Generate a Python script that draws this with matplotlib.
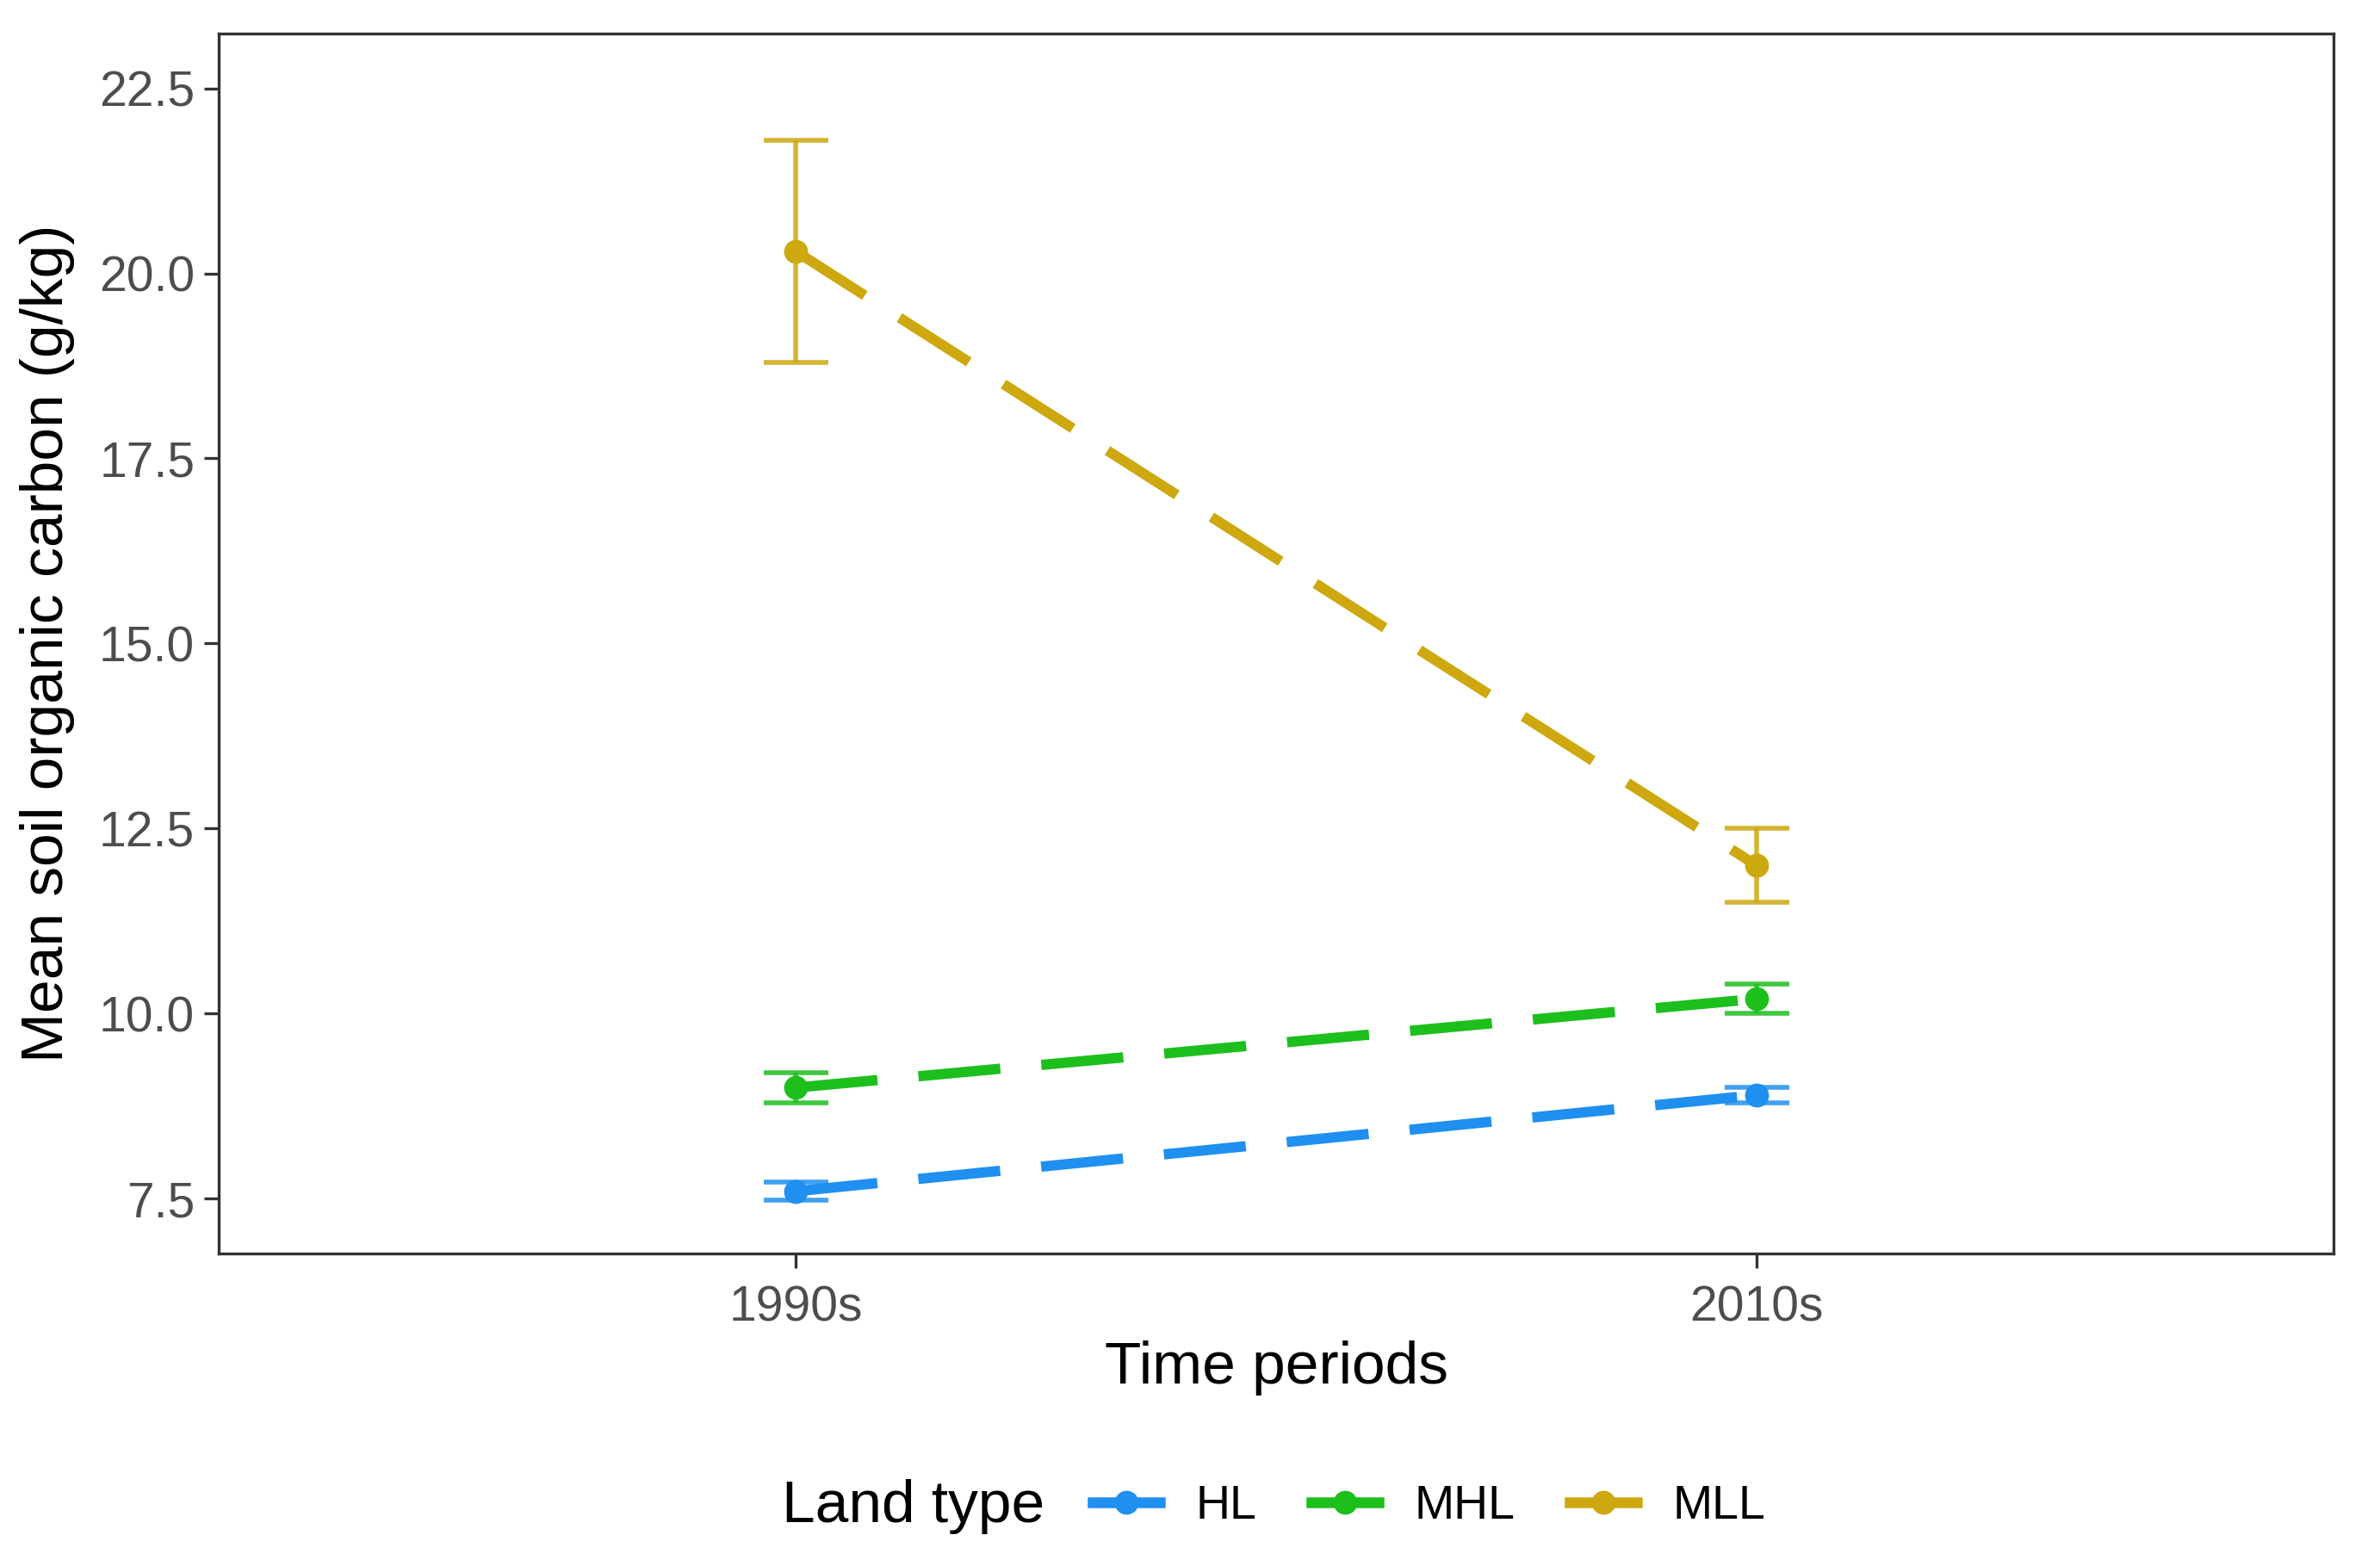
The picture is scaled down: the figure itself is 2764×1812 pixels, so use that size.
import matplotlib
matplotlib.use("Agg")
import matplotlib.pyplot as plt
from matplotlib.lines import Line2D

plt.rcParams['font.family'] = ['Liberation Sans', 'DejaVu Sans']

# data
periods = ["1990s", "2010s"]
land_types = ["HL", "MHL", "MLL"]
hl_mean = [7.6, 8.9]
hl_se = [0.12, 0.1]
mhl_mean = [9.0, 10.2]
mhl_se = [0.2, 0.2]
mll_mean = [20.3, 12.0]
mll_se = [1.5, 0.5]
colors = ["#1F8FF0", "#1DBF1D", "#CDA80F"]

means = [hl_mean, mhl_mean, mll_mean]
ses = [hl_se, mhl_se, mll_se]

fig = plt.figure(figsize=(13.82, 9.06), dpi=200)
ax = fig.add_axes([0.0919, 0.1965, 0.8886, 0.782])

x = [1, 2]
handles = []
for name, m, s, c in zip(land_types, means, ses, colors):
    ax.errorbar(x, m, yerr=s, fmt='none', ecolor=c, alpha=0.85,
                elinewidth=2.0, capsize=13.5, capthick=2.0, zorder=2)
    ax.plot(x, m, color=c, lw=4.3, dashes=(8, 4), zorder=3)
    ax.plot(x, m, 'o', color=c, ms=9, zorder=4)
    handles.append(Line2D([], [], color=c, lw=4.5, marker='o', ms=9, label=name))

ax.set_xlim(0.4, 2.6)
ax.set_ylim(6.76, 23.24)
ax.set_xticks(x)
ax.set_xticklabels(periods)
ax.set_yticks([7.5, 10.0, 12.5, 15.0, 17.5, 20.0, 22.5])
ax.set_yticklabels(["7.5", "10.0", "12.5", "15.0", "17.5", "20.0", "22.5"])
ax.tick_params(labelsize=20.5, labelcolor="#4D4D4D", color="#333333",
               length=6, width=1.2, pad=4)
ax.tick_params(axis='x', pad=7)
for sp in ax.spines.values():
    sp.set_color("#333333")
    sp.set_linewidth(1.2)

ax.set_xlabel("Time periods", fontsize=25, labelpad=4)
ax.set_ylabel("Mean soil organic carbon (g/kg)", fontsize=25, labelpad=10)

fig.text(0.4388, 0.034, "Land type", ha='right', va='center', fontsize=25)
fig.legend(handles=handles, loc='center left', bbox_to_anchor=(0.441, 0.034),
           ncol=3, frameon=False, fontsize=20, handlelength=1.4,
           handletextpad=0.75, columnspacing=1.15)

fig.savefig("out.png", dpi=200)
